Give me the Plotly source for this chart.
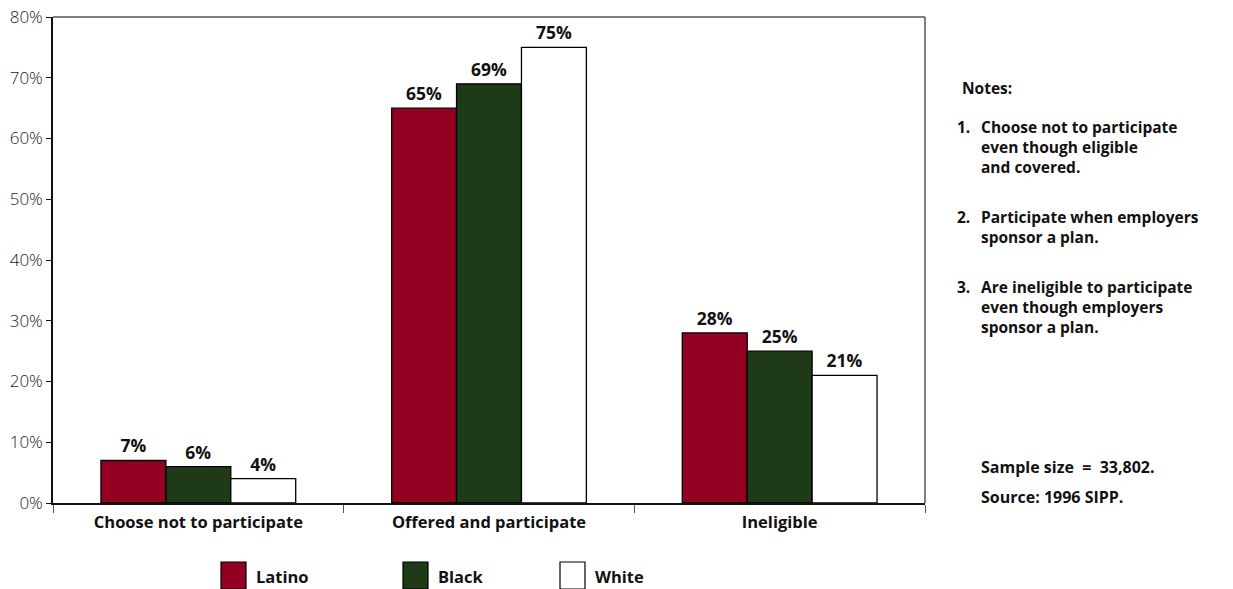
import plotly.graph_objects as go

categories = ["Choose not to participate", "Offered and participate", "Ineligible"]
series_names = ["Latino", "Black", "White"]
latino = [7, 65, 28]
black = [6, 69, 25]
white = [4, 75, 21]
colors = ["#930021", "#1e3a17", "#ffffff"]
y_ticks = [0, 10, 20, 30, 40, 50, 60, 70, 80]

notes_title = "Notes:"
notes = [
    ("1.", ["Choose not to participate", "even though eligible", "and covered."]),
    ("2.", ["Participate when employers", "sponsor a plan."]),
    ("3.", ["Are ineligible to participate", "even though employers", "sponsor a plan."]),
]
footer = ["Sample size&nbsp; =&nbsp; 33,802.", "Source: 1996 SIPP."]

FONT = "Open Sans"
L, R, T, B = 53, 925, 17, 503
PW, PH = R - L, B - T


def px_x(x):
    return (x - L) / PW


def px_y(y):
    return (B - y) / PH


fig = go.Figure()
for name, vals, col in zip(series_names, [latino, black, white], colors):
    fig.add_trace(go.Bar(
        x=categories, y=vals, name=name,
        marker=dict(color=col, line=dict(color="#000000", width=1.3)),
        text=[f"{v}%" for v in vals], textposition="outside",
        textfont=dict(family=FONT, size=17.5, color="#111", weight="bold"),
        cliponaxis=False, showlegend=False,
    ))

fig.update_layout(
    width=1233, height=589,
    margin=dict(l=L, r=1233 - R, t=T, b=589 - B, autoexpand=False),
    paper_bgcolor="white", plot_bgcolor="white",
    barmode="group", bargap=0.33, bargroupgap=0,
    font=dict(family=FONT, color="#111"),
    xaxis=dict(
        showline=True, linecolor="#111", linewidth=2, mirror=False,
        ticks="outside", tickson="boundaries", ticklen=8, tickcolor="#555",
        tickfont=dict(family=FONT, size=16.5, color="#111", weight="bold"),
        ticklabelstandoff=3, automargin=False,
        showgrid=False,
    ),
    yaxis=dict(
        range=[0, 80], tickvals=y_ticks, ticktext=[f"{t}%" for t in y_ticks],
        showline=True, linecolor="#111", linewidth=1.5,
        ticks="outside", ticklen=5, tickcolor="#111",
        tickfont=dict(family=FONT, size=17, color="#1a1a1a", weight=300),
        showgrid=False, zeroline=False, automargin=False,
    ),
    shapes=[
        dict(type="line", xref="paper", yref="paper", x0=0, x1=1, y0=1, y1=1,
             line=dict(color="#555", width=1.5)),
        dict(type="line", xref="paper", yref="paper", x0=1, x1=1, y0=0, y1=1,
             line=dict(color="#555", width=1.5)),
    ],
)

# legend drawn as boxes + labels below plot
leg_x = [221, 403, 560]
for xpx, name, col in zip(leg_x, series_names, colors):
    fig.add_shape(type="rect", xref="paper", yref="paper",
                  x0=px_x(xpx), x1=px_x(xpx + 25),
                  y0=px_y(589), y1=px_y(562),
                  fillcolor=col, line=dict(color="#000", width=1.2))
    fig.add_annotation(xref="paper", yref="paper", x=px_x(xpx + 33),
                       y=px_y(576), text=name, showarrow=False,
                       xanchor="left", yanchor="middle",
                       font=dict(family=FONT, size=16.5, color="#111", weight="bold"))

NOTE_SIZE = 15.5
fig.add_annotation(xref="paper", yref="paper", x=px_x(960), y=px_y(88), text=notes_title,
                   showarrow=False, xanchor="left", yanchor="middle",
                   font=dict(family=FONT, size=NOTE_SIZE, color="#111", weight="bold"))
starts = [126, 216, 286]
for (num, lines), y0 in zip(notes, starts):
    fig.add_annotation(xref="paper", yref="paper", x=px_x(955), y=px_y(y0 + 1), text=num,
                       showarrow=False, xanchor="left", yanchor="middle",
                       font=dict(family=FONT, size=NOTE_SIZE, color="#111", weight="bold"))
    fig.add_annotation(xref="paper", yref="paper", x=px_x(979), y=px_y(y0 - 12),
                       text="<br>".join(lines), showarrow=False, xanchor="left",
                       yanchor="top", align="left",
                       font=dict(family=FONT, size=NOTE_SIZE, color="#111", weight="bold"))
for line, yy in zip(footer, [467, 497]):
    fig.add_annotation(xref="paper", yref="paper", x=px_x(979), y=px_y(yy), text=line,
                       showarrow=False, xanchor="left", yanchor="middle",
                       font=dict(family=FONT, size=16, color="#111", weight="bold"))

fig.write_html("out.html", config={"displayModeBar": False},
               post_script="document.body.style.margin='0';document.body.style.overflow='hidden';")
